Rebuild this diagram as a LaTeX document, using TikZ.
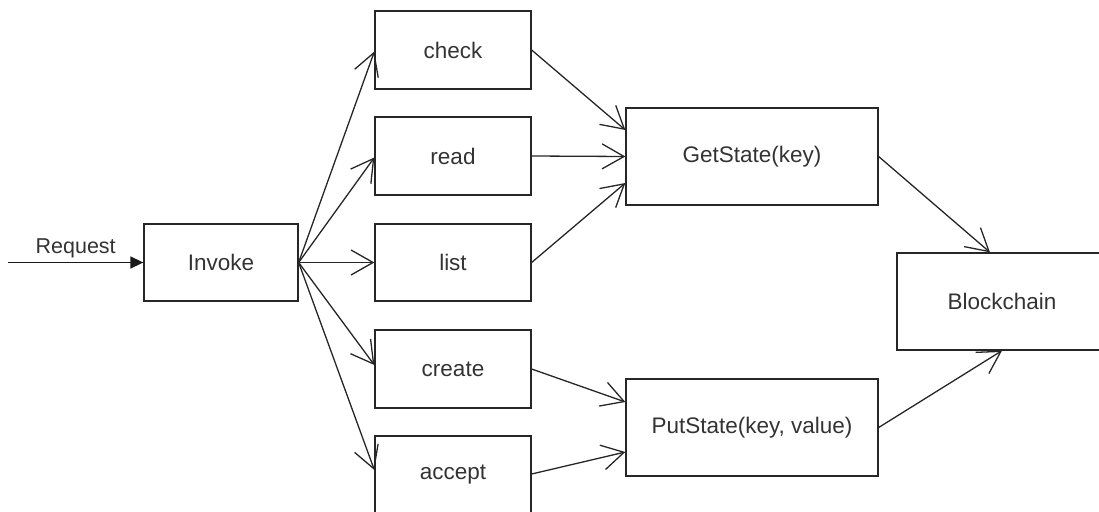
\documentclass[tikz,border=0pt]{standalone}
\usepackage{fontspec}
\setmainfont{Liberation Sans}
\usetikzlibrary{arrows.meta}
\tikzset{
  box/.style={draw=black!85, line width=1.3pt, rectangle, inner sep=0pt,
              text=black!80, font=\fontsize{22.5}{26}\selectfont},
  flow/.style={draw=black!85, line width=1.3pt,
               -{Straight Barb[length=22pt,width=25pt,line width=1.3pt]}},
  req/.style={draw=black!90, line width=1.6pt,
              -{Triangle[length=13pt,width=12pt]}},
}
\begin{document}
\begin{tikzpicture}[x=1pt,y=-1pt]
  \useasboundingbox (0,0) rectangle (1099,511);

  % request handler and the chaincode functions
  \node[box, minimum width=154pt, minimum height=77pt] (invoke) at (221,262.5) {Invoke};
  \node[box, minimum width=156pt, minimum height=78pt] (check)  at (453,50)    {check};
  \node[box, minimum width=156pt, minimum height=78pt] (read)   at (453,156)   {read};
  \node[box, minimum width=156pt, minimum height=77pt] (list)   at (453,262.5) {list};
  \node[box, minimum width=156pt, minimum height=78pt] (create) at (453,369)   {create};
  \node[box, minimum width=156pt, minimum height=78pt] (accept) at (453,475)   {accept};

  % ledger API and the ledger
  \node[box, minimum width=252pt, minimum height=97pt] (get) at (752,156.5) {GetState(key)};
  \node[box, minimum width=252pt, minimum height=97pt] (put) at (752,427.5) {PutState(key, value)};
  \node[box, minimum width=210pt, minimum height=97pt] (chain) at (1002,301.5) {Blockchain};

  % incoming request
  \coordinate (src) at (8,262.5);
  \draw[req] (src) -- node[above=4pt, text=black!80, font=\fontsize{21.5}{25}\selectfont, inner sep=0pt] {Request} (invoke.west);

  % dispatch
  \draw[flow] (invoke.east) -- ([yshift=-1.5pt]check.west);
  \draw[flow] (invoke.east) -- ([yshift=-1.5pt]read.west);
  \draw[flow] (invoke.east) -- (list.west);
  \draw[flow] (invoke.east) -- ([yshift=4pt]create.west);
  \draw[flow] (invoke.east) -- ([yshift=5pt]accept.west);

  % reads
  \draw[flow] (check.east) -- ([yshift=26.5pt]get.west);
  \draw[flow] (read.east)  -- (get.west);
  \draw[flow] (list.east)  -- ([yshift=-26.5pt]get.west);

  % writes
  \draw[flow] (create.east) -- ([yshift=25.5pt]put.west);
  \draw[flow] ([yshift=1pt]accept.east) -- ([yshift=-24.5pt]put.west);

  % ledger access
  \draw[flow] (get.east) -- ([xshift=-12pt]chain.north);
  \draw[flow] (put.east) -- (chain.south);
\end{tikzpicture}
\end{document}
